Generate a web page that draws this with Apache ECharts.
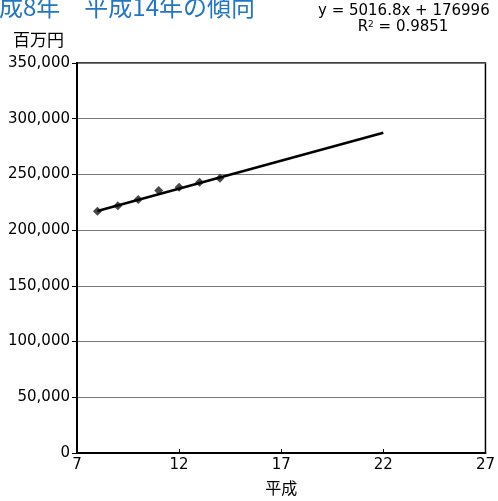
<!DOCTYPE html>
<html><head><meta charset="utf-8">
<script src="https://cdn.jsdelivr.net/npm/echarts@6/dist/echarts.min.js"></script>
<style>html,body{margin:0;padding:0;background:#fff}#c{width:498px;height:501px}</style>
</head><body><div id="c"></div>
<script>
const years = [8, 9, 10, 11, 12, 13, 14];
const values = [217000, 222000, 227500, 235500, 238500, 243000, 246500];
const trendX = [8, 22];
const trendY = [217130, 287366];
const yTicks = [0, 50000, 100000, 150000, 200000, 250000, 300000, 350000];
const titleText = '平成8年　平成14年の傾向';
const eqText = 'y = 5016.8x + 176996';
const r2Text = 'R{s|2} = 0.9851';

const F = '"DejaVu Sans", "Noto Sans CJK JP", sans-serif';
const chart = echarts.init(document.getElementById('c'));
chart.setOption({
  animation: false,
  backgroundColor: '#fff',
  grid: {left: 77, right: 10, top: 63, bottom: 45, show: true, borderColor: '#000', borderWidth: 1.5},
  xAxis: {
    type: 'value', min: 7, max: 27, interval: 5,
    axisLine: {show: true, onZero: false, lineStyle: {color: '#000', width: 2}},
    axisTick: {show: true, inside: true, length: 4, lineStyle: {color: '#000'}},
    axisLabel: {color: '#000', fontSize: 15, fontFamily: F, margin: 5},
    splitLine: {show: false},
    name: '平成', nameLocation: 'middle', nameGap: 27,
    nameTextStyle: {color: '#000', fontSize: 16, fontFamily: '"Noto Sans CJK JP"'}
  },
  yAxis: {
    type: 'value', min: 0, max: 350000, interval: 50000,
    axisLine: {show: true, lineStyle: {color: '#000', width: 2}},
    axisTick: {show: true, inside: false, length: 5, lineStyle: {color: '#000'}},
    axisLabel: {color: '#000', fontSize: 15, fontFamily: F, margin: 7,
      formatter: v => yTicks.includes(v) ? v.toLocaleString('en-US') : ''},
    splitLine: {show: true, lineStyle: {color: '#777', width: 1}}
  },
  series: [
    {type: 'line', data: trendX.map((x, i) => [x, trendY[i]]), symbol: 'none',
     lineStyle: {color: '#000', width: 2.5}, z: 3},
    {type: 'scatter', data: years.map((x, i) => [x, values[i]]), symbol: 'diamond', symbolSize: 9,
     itemStyle: {color: '#1a1a1a'}, z: 2}
  ],
  graphic: [
    {type: 'text', x: -25, y: -5, style: {text: titleText, fill: '#2277c4', font: '24px "Noto Sans CJK JP"'}},
    {type: 'text', x: 318, y: 4, style: {text: eqText, fill: '#000', font: '15px ' + F}},
    {type: 'text', x: 403, y: 20, style: {text: r2Text, fill: '#000', font: '15px ' + F, align: 'center',
      rich: {s: {fontSize: 9, verticalAlign: 'top', padding: [0,0,6,0], fill: '#000', fontFamily: 'DejaVu Sans'}}}},
    {type: 'text', x: 13, y: 31, style: {text: '百万円', fill: '#000', font: '17px "Noto Sans CJK JP"'}}
  ]
});
</script></body></html>
